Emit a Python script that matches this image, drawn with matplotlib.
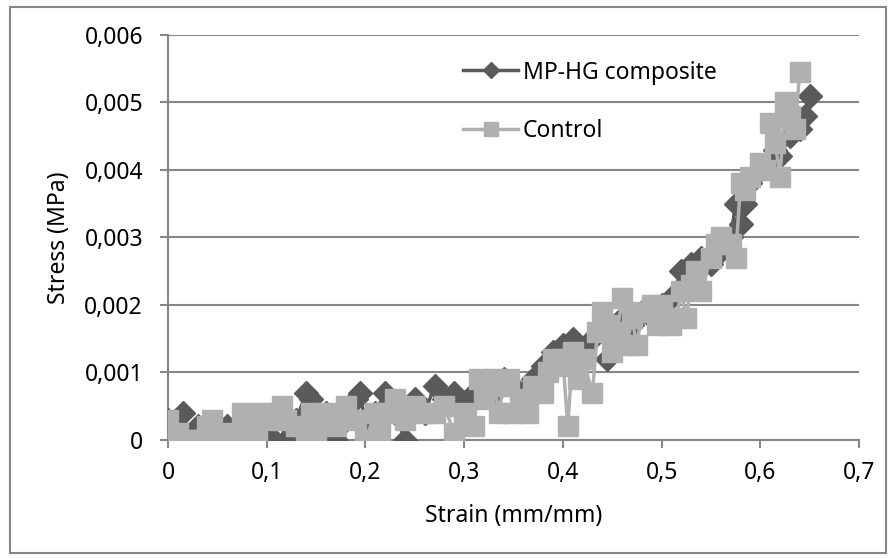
import numpy as np
import matplotlib.pyplot as plt
from matplotlib.patches import Rectangle

# strain / stress readings
mp_strain = [0.0, 0.01, 0.015, 0.02, 0.03, 0.04, 0.05, 0.06, 0.07, 0.08, 0.09, 0.10, 0.105,
             0.11, 0.12, 0.13, 0.14, 0.145, 0.15, 0.16, 0.17, 0.18, 0.19, 0.195, 0.20, 0.21,
             0.22, 0.23, 0.24, 0.25, 0.26, 0.27, 0.28, 0.29, 0.30, 0.31, 0.32, 0.33, 0.34,
             0.35, 0.36, 0.37, 0.38, 0.39, 0.40, 0.41, 0.42, 0.43, 0.44, 0.445, 0.45, 0.46,
             0.47, 0.48, 0.49, 0.50, 0.51, 0.52, 0.53, 0.54, 0.55, 0.56, 0.57, 0.575, 0.58,
             0.585, 0.59, 0.60, 0.61, 0.615, 0.62, 0.63, 0.64, 0.645, 0.65]
mp_stress = [0.0003, 0.0002, 0.0004, 0.0, 0.0002, 0.0001, 0.0, 0.0002, 0.0001, 0.0003, 0.0002,
             0.0001, 0.0, 0.0004, 0.0, 0.0003, 0.0007, 0.0006, 0.0002, 0.0004, 0.0, 0.0003,
             0.0006, 0.0007, 0.0002, 0.0004, 0.0007, 0.0004, 0.0, 0.0006, 0.0004, 0.0008,
             0.0006, 0.0007, 0.0005, 0.0007, 0.0008, 0.0007, 0.0009, 0.0008, 0.0007, 0.0009,
             0.0011, 0.0013, 0.0014, 0.0015, 0.0013, 0.0015, 0.0017, 0.0012, 0.0016, 0.0018,
             0.0017, 0.0019, 0.0018, 0.0020, 0.0021, 0.0025, 0.0026, 0.0027, 0.0026, 0.0028,
             0.0030, 0.0035, 0.0032, 0.0035, 0.0038, 0.0040, 0.0041, 0.0043, 0.0042, 0.0045,
             0.0046, 0.0048, 0.0051]

ctrl_strain = [0.0, 0.01, 0.02, 0.03, 0.04, 0.045, 0.05, 0.06, 0.07, 0.075, 0.08, 0.09, 0.095,
               0.10, 0.11, 0.115, 0.12, 0.13, 0.14, 0.145, 0.15, 0.16, 0.17, 0.18, 0.19, 0.20,
               0.21, 0.215, 0.22, 0.23, 0.24, 0.25, 0.26, 0.27, 0.28, 0.29, 0.30, 0.31, 0.315,
               0.32, 0.33, 0.335, 0.34, 0.345, 0.35, 0.36, 0.365, 0.37, 0.38, 0.385, 0.39,
               0.395, 0.40, 0.405, 0.41, 0.415, 0.42, 0.43, 0.435, 0.44, 0.445, 0.45, 0.455,
               0.46, 0.465, 0.47, 0.475, 0.48, 0.49, 0.495, 0.50, 0.505, 0.51, 0.515, 0.52,
               0.525, 0.53, 0.535, 0.54, 0.55, 0.555, 0.56, 0.57, 0.575, 0.58, 0.585, 0.59,
               0.60, 0.605, 0.61, 0.615, 0.62, 0.625, 0.63, 0.635, 0.64]
ctrl_stress = [0.0003, 0.0001, 0.0, 0.0, 0.0002, 0.0003, 0.0, 0.0001, 0.0, 0.0004, 0.0001,
               0.0, 0.0004, 0.0003, 0.0004, 0.0005, 0.0003, 0.0002, 0.0, 0.0004, 0.0001,
               0.0004, 0.0002, 0.0005, 0.0003, 0.0, 0.0004, 0.0001, 0.0004, 0.0006, 0.0003,
               0.0005, 0.0004, 0.0004, 0.0005, 0.0001, 0.0004, 0.0002, 0.0009, 0.0006, 0.0009,
               0.0004, 0.0008, 0.0009, 0.0004, 0.0006, 0.0004, 0.0008, 0.0007, 0.0010, 0.0012,
               0.0011, 0.0012, 0.0002, 0.0013, 0.0009, 0.0012, 0.0007, 0.0016, 0.0019, 0.0017,
               0.0013, 0.0016, 0.0021, 0.0014, 0.0018, 0.0014, 0.0019, 0.0020, 0.0017, 0.0020,
               0.0018, 0.0017, 0.0018, 0.0022, 0.0018, 0.0023, 0.0025, 0.0022, 0.0027, 0.0029,
               0.0030, 0.0029, 0.0027, 0.0038, 0.0037, 0.0039, 0.0041, 0.0040, 0.0047, 0.0044,
               0.0039, 0.0050, 0.0048, 0.0046, 0.00545]

x_ticks = [0, 0.1, 0.2, 0.3, 0.4, 0.5, 0.6, 0.7]
y_ticks = [0, 0.001, 0.002, 0.003, 0.004, 0.005, 0.006]

plt.rcParams['font.family'] = ['Noto Sans', 'DejaVu Sans']
grid_col = '#868686'
fs = 16.5

fig = plt.figure(figsize=(8.96, 5.59), dpi=100)
ax = fig.add_axes([0.1875, 0.2129, 0.7712, 0.7245])

ax.plot(mp_strain, mp_stress, color='#5a5a5a', lw=2.5, marker='D', ms=12,
        label='MP-HG composite', zorder=3)
ax.plot(ctrl_strain, ctrl_stress, color='#b0b0b0', lw=2.5, marker='s', ms=14,
        label='Control', zorder=4)

ax.set_xlim(0, 0.7)
ax.set_ylim(0, 0.006)
ax.set_xticks(x_ticks)
ax.set_yticks(y_ticks)
ax.set_xticklabels([('%g' % v).replace('.', ',') for v in x_ticks])
ax.set_yticklabels(['0'] + [('%.3f' % v).replace('.', ',') for v in y_ticks[1:]])
ax.tick_params(labelsize=fs, color=grid_col, length=6, width=1.5)
ax.tick_params(axis='y', pad=12)
ax.tick_params(axis='x', pad=9)
ax.grid(axis='y', color=grid_col, lw=1.5)
ax.set_axisbelow(True)
for s in ['top', 'right']:
    ax.spines[s].set_visible(False)
for s in ['left', 'bottom']:
    ax.spines[s].set_color(grid_col)
    ax.spines[s].set_linewidth(1.5)

ax.set_xlabel('Strain (mm/mm)', fontsize=fs, va='center')
ax.xaxis.set_label_coords(0.5, -0.188)
ax.set_ylabel('Stress (MPa)', fontsize=fs, va='center')
ax.yaxis.set_label_coords(-0.158, 0.5)

ax.legend(loc='upper left', bbox_to_anchor=(0.427, 0.937), frameon=False, fontsize=fs,
          labelspacing=1.5, handlelength=2.4, handletextpad=0.2, borderpad=0,
          borderaxespad=0, markerscale=0.7)

fig.patches.append(Rectangle((0.011, 0.01), 0.978, 0.977, transform=fig.transFigure,
                             fill=False, edgecolor=grid_col, lw=1.5))

fig.savefig('out.png', dpi=100)
